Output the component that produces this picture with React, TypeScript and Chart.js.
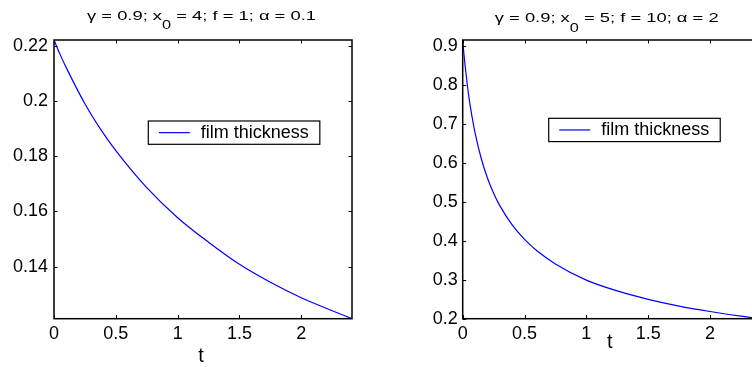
import React, { useEffect, useRef } from "react";
import { Chart, registerables } from "chart.js";

Chart.register(...registerables);

// ---- data ----
const leftT = [0, 0.05, 0.1, 0.25, 0.375, 0.5, 0.75, 1, 1.25, 1.5, 1.75, 2, 2.25, 2.41];
const leftThickness = [0.2221, 0.2168, 0.212, 0.199, 0.1899, 0.182, 0.1686, 0.1577, 0.1488, 0.1408, 0.1343, 0.1287, 0.124, 0.1211];

const rightT = [0, 0.01, 0.02, 0.035, 0.05, 0.075, 0.1, 0.15, 0.2, 0.25, 0.3, 0.4, 0.5, 0.6, 0.75, 1, 1.25, 1.5, 1.75, 2, 2.25, 2.41];
const rightThickness = [0.915, 0.879, 0.848, 0.806, 0.769, 0.719, 0.677, 0.611, 0.561, 0.522, 0.49, 0.4405, 0.4034, 0.3744, 0.3406, 0.299, 0.2712, 0.2497, 0.2324, 0.2185, 0.2064, 0.2];

const legendLabel = "film thickness";
const xAxisLabel = "t";
const leftTitle = ["γ = 0.9; x", "0", " = 4; f = 1; α = 0.1"];
const rightTitle = ["γ = 0.9; x", "0", " = 5; f = 10; α = 2"];

const FONT = "'Liberation Sans', Arial, Helvetica, sans-serif";

type Panel = {
  t: number[];
  v: number[];
  yMin: number;
  yMax: number;
  yStep: number;
  title: string[];
  canvasLeft: number;
  canvasWidth: number;
  yAxisWidth: number;
  padRight: number;
  yTickPad: number;
  titleBaseline: number;
  titleCenterDx: number;
  legendDx: number;
  legendTop: number;
  xLabelBaseline: number;
};

const panels: Panel[] = [
  {
    t: leftT,
    v: leftThickness,
    yMin: 0.1211,
    yMax: 0.2221,
    yStep: 0.02,
    title: leftTitle,
    canvasLeft: 0,
    canvasWidth: 376,
    yAxisWidth: 54,
    padRight: 24,
    yTickPad: 6,
    titleBaseline: 19.5,
    titleCenterDx: -1.5,
    legendDx: 94.3,
    legendTop: 121,
    xLabelBaseline: 362,
  },
  {
    t: rightT,
    v: rightThickness,
    yMin: 0.2,
    yMax: 0.915,
    yStep: 0.1,
    title: rightTitle,
    canvasLeft: 376,
    canvasWidth: 386,
    yAxisWidth: 86.7,
    padRight: 1.3,
    yTickPad: 5,
    titleBaseline: 22,
    titleCenterDx: -5,
    legendDx: 86,
    legendTop: 118.3,
    xLabelBaseline: 347.5,
  },
];

const fmt = (v: any) => String(parseFloat(Number(v).toFixed(4)));

function ChartPanel({ p }: { p: Panel }) {
  const ref = useRef<HTMLCanvasElement | null>(null);
  useEffect(() => {
    if (!ref.current) return;
    const decor = {
      id: "decor",
      afterDatasetsDraw(chart: any) {
        const { ctx, chartArea: a, scales } = chart;
        ctx.save();
        // box
        ctx.strokeStyle = "#000";
        ctx.lineWidth = 1.5;
        ctx.strokeRect(a.left, a.top, a.right - a.left, a.bottom - a.top);
        // inward ticks
        const tl = 3.5;
        ctx.lineWidth = 1;
        ctx.beginPath();
        for (const tk of scales.x.ticks) {
          const px = Math.round(scales.x.getPixelForValue(tk.value)) + 0.5;
          ctx.moveTo(px, a.bottom);
          ctx.lineTo(px, a.bottom - tl);
          ctx.moveTo(px, a.top);
          ctx.lineTo(px, a.top + tl);
        }
        for (const tk of scales.y.ticks) {
          const py = Math.round(scales.y.getPixelForValue(tk.value)) + 0.5;
          ctx.moveTo(a.left, py);
          ctx.lineTo(a.left + tl, py);
          ctx.moveTo(a.right, py);
          ctx.lineTo(a.right - tl, py);
        }
        ctx.stroke();

        // legend
        ctx.font = `18px ${FONT}`;
        const tw = ctx.measureText(legendLabel).width;
        const bx = a.left + p.legendDx;
        const by = p.legendTop;
        const lineStart = 10.5;
        const lineLen = 31;
        const gap = 11;
        const bw = lineStart + lineLen + gap + tw + 11;
        const bh = 23.3;
        ctx.fillStyle = "#fff";
        ctx.fillRect(bx, by, bw, bh);
        ctx.strokeStyle = "#000";
        ctx.lineWidth = 1.2;
        ctx.strokeRect(bx, by, bw, bh);
        ctx.strokeStyle = "#0000ff";
        ctx.lineWidth = 1.2;
        ctx.beginPath();
        ctx.moveTo(bx + lineStart, by + bh / 2);
        ctx.lineTo(bx + lineStart + lineLen, by + bh / 2);
        ctx.stroke();
        ctx.fillStyle = "#000";
        ctx.textBaseline = "middle";
        ctx.textAlign = "left";
        ctx.fillText(legendLabel, bx + lineStart + lineLen + gap, by + bh / 2 + 0.5);

        // title with subscript, horizontally widened
        const sx = 1.36;
        const mainFont = `13.5px ${FONT}`;
        const subFont = `12px ${FONT}`;
        ctx.textBaseline = "alphabetic";
        ctx.font = mainFont;
        const w1 = ctx.measureText(p.title[0]).width;
        const w3 = ctx.measureText(p.title[2]).width;
        ctx.font = subFont;
        const w2 = ctx.measureText(p.title[1]).width;
        const total = (w1 + w2 + w3) * sx;
        const cx = (a.left + a.right) / 2 + p.titleCenterDx;
        ctx.save();
        ctx.translate(cx - total / 2, p.titleBaseline);
        ctx.scale(sx, 1);
        ctx.font = mainFont;
        ctx.fillText(p.title[0], 0, 0);
        ctx.font = subFont;
        ctx.fillText(p.title[1], w1, 9.5);
        ctx.font = mainFont;
        ctx.fillText(p.title[2], w1 + w2, 0);
        ctx.restore();

        // x axis label
        ctx.font = `20px ${FONT}`;
        ctx.textAlign = "center";
        ctx.fillText(xAxisLabel, (a.left + a.right) / 2 - 2, p.xLabelBaseline);
        ctx.restore();
      },
    };

    const chart = new Chart(ref.current, {
      type: "line",
      data: {
        datasets: [
          {
            label: legendLabel,
            data: p.t.map((x, i) => ({ x, y: p.v[i] })),
            borderColor: "#0000ff",
            borderWidth: 1.2,
            pointRadius: 0,
            fill: false,
            cubicInterpolationMode: "monotone",
          },
        ],
      },
      options: {
        animation: false,
        responsive: false,
        maintainAspectRatio: false,
        layout: { padding: { top: 40, left: 0, right: p.padRight, bottom: 0 } },
        plugins: {
          legend: { display: false },
          title: { display: false },
          tooltip: { enabled: false },
        },
        scales: {
          x: {
            type: "linear",
            min: 0,
            max: 2.41,
            grid: { display: false, drawTicks: false },
            border: { display: false },
            ticks: {
              stepSize: 0.5,
              includeBounds: false,
              padding: 4.5,
              maxRotation: 0,
              color: "#000",
              font: { family: FONT, size: 18 },
              callback: fmt,
            },
            afterFit(scale: any) {
              scale.height = 367 - 318.7;
            },
          },
          y: {
            type: "linear",
            min: p.yMin,
            max: p.yMax,
            grid: { display: false, drawTicks: false },
            border: { display: false },
            ticks: {
              stepSize: p.yStep,
              includeBounds: false,
              padding: p.yTickPad,
              color: "#000",
              font: { family: FONT, size: 18 },
              callback: fmt,
            },
            afterFit(scale: any) {
              scale.width = p.yAxisWidth;
            },
          },
        },
      },
      plugins: [decor],
    } as any);
    return () => chart.destroy();
  }, [p]);

  return (
    <canvas
      ref={ref}
      width={p.canvasWidth}
      height={367}
      style={{ position: "absolute", left: p.canvasLeft, top: 0, width: p.canvasWidth, height: 367 }}
    />
  );
}

export default function App() {
  return (
    <div
      style={{
        position: "fixed",
        left: 0,
        top: 0,
        width: 752,
        height: 367,
        overflow: "hidden",
        background: "#fff",
      }}
    >
      {panels.map((p, i) => (
        <ChartPanel key={i} p={p} />
      ))}
    </div>
  );
}
